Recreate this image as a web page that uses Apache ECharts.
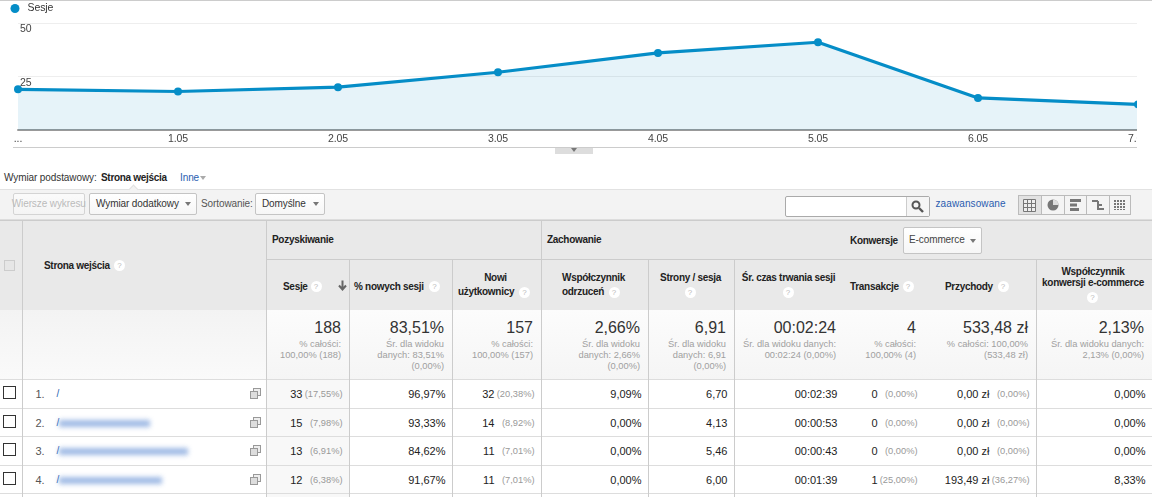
<!DOCTYPE html>
<html>
<head>
<meta charset="utf-8">
<title>Strona wejścia</title>
<script src="https://cdn.jsdelivr.net/npm/echarts@6/dist/echarts.min.js"></script>
<style>
    html,body{margin:0;padding:0;background:#fff;overflow:hidden;}
    #page{position:absolute;left:0;top:0;width:1152px;height:497px;overflow:hidden;font:10px "Liberation Sans",Arial,sans-serif;letter-spacing:-.1px;color:#333;}
    #chart{position:absolute;left:0;top:0;width:1137px;height:147px;}
    #page .t{position:absolute;white-space:nowrap;line-height:14px;}
    #page .b{position:absolute;box-sizing:border-box;}
    .btn{background:linear-gradient(#fff,#f6f6f6);border:1px solid #c4c4c4;border-radius:2px;}
</style>
</head>
<body>
<div id="page">
    <div id="chart"></div>
</div>
<script>
// wykres
const categories=['...','1.05','2.05','3.05','4.05','5.05','6.05','7.05'];
const sessions=[19,18,20,27,36,41,15,12];
const yTicks=[0,25,50];
const seriesName='Sesje';

// tabela
const metricHeads=['Sesje','% nowych sesji','Nowi użytkownicy','Współczynnik odrzuceń','Strony / sesja','Śr. czas trwania sesji','Transakcje','Przychody','Współczynnik konwersji e-commerce'];
const totalValues=['188','83,51%','157','2,66%','6,91','00:02:24','4','533,48 zł','2,13%'];
const totalNotes=[
    ['% całości:','100,00% (188)'],
    ['Śr. dla widoku','danych: 83,51%','(0,00%)'],
    ['% całości:','100,00% (157)'],
    ['Śr. dla widoku','danych: 2,66%','(0,00%)'],
    ['Śr. dla widoku','danych: 6,91','(0,00%)'],
    ['Śr. dla widoku danych:','00:02:24 (0,00%)'],
    ['% całości:','100,00% (4)'],
    ['% całości: 100,00%','(533,48 zł)'],
    ['Śr. dla widoku danych:','2,13% (0,00%)']
];
const rowRanks=['1.','2.','3.','4.'];
const rowSessions=['33','15','13','12'];
const rowSessionShare=['(17,55%)','(7,98%)','(6,91%)','(6,38%)'];
const rowNewRate=['96,97%','93,33%','84,62%','91,67%'];
const rowNewUsers=['32','14','11','11'];
const rowNewUsersShare=['(20,38%)','(8,92%)','(7,01%)','(7,01%)'];
const rowBounce=['9,09%','0,00%','0,00%','0,00%'];
const rowPages=['6,70','4,13','5,46','6,00'];
const rowDuration=['00:02:39','00:00:53','00:00:43','00:01:39'];
const rowTransactions=['0','0','0','1'];
const rowTransactionsShare=['(0,00%)','(0,00%)','(0,00%)','(25,00%)'];
const rowRevenue=['0,00 zł','0,00 zł','0,00 zł','193,49 zł'];
const rowRevenueShare=['(0,00%)','(0,00%)','(0,00%)','(36,27%)'];
const rowConversion=['0,00%','0,00%','0,00%','8,33%'];

const chart=echarts.init(document.getElementById('chart'));
chart.setOption({
    animation:false,
    legend:{
        data:[seriesName],
        left:10.5,
        top:3,
        padding:0,
        icon:'circle',
        itemWidth:9,
        itemHeight:9,
        textStyle:{color:'#333',fontSize:10.5,fontFamily:'Liberation Sans',padding:[0,0,0,3]}
    },
    grid:{left:18,top:23,width:1120,height:107,outerBoundsMode:'none'},
    xAxis:{
        type:'category',
        boundaryGap:false,
        data:categories,
        axisTick:{show:false},
        axisLine:{lineStyle:{color:'#999',width:2}},
        axisLabel:{interval:0,margin:4,hideOverlap:false,color:'#444',fontSize:10.5,fontFamily:'Liberation Sans'}
    },
    yAxis:{
        type:'value',
        min:yTicks[0],
        max:yTicks[2],
        interval:yTicks[1],
        axisLine:{show:false},
        axisTick:{show:false},
        splitLine:{lineStyle:{color:'#eee'}},
        axisLabel:{inside:true,showMinLabel:false,margin:2,verticalAlign:'top',padding:[1,0,0,0],color:'#444',fontSize:10.5,fontFamily:'Liberation Sans'}
    },
    series:[{
        name:seriesName,
        type:'line',
        data:sessions,
        clip:false,
        showAllSymbol:true,
        symbol:'circle',
        symbolSize:8,
        color:'#058dc7',
        lineStyle:{width:3.2,color:'#058dc7'},
        areaStyle:{color:'#058dc7',opacity:0.1}
    }]
});

const page=document.getElementById('page');
function box(x,y,w,h,css,cls){
    let el=document.createElement('div');
    el.className='b '+(cls||'');
    el.style.cssText='left:'+x+'px;top:'+y+'px;width:'+w+'px;height:'+h+'px;'+(css||'');
    page.appendChild(el);
    return el;
}
// y = srodek wiersza, align: l / r / c
function text(x,y,str,css,align){
    let el=document.createElement('div');
    el.className='t';
    el.textContent=str;
    let pos='left:'+x+'px;';
    if(align==='r') pos='right:'+(1152-x)+'px;';
    if(align==='c') pos='left:'+x+'px;transform:translateX(-50%);';
    el.style.cssText=pos+'top:'+(y-7)+'px;'+(css||'');
    page.appendChild(el);
    return el;
}
function help(cx,cy){
    let el=box(cx-5.5,cy-5.5,11,11,'background:#fff;border-radius:50%;color:#bbb;font-size:8px;line-height:11px;text-align:center;');
    el.textContent='?';
}
function caret(cx,cy,color){
    box(cx-3.5,cy-2,0,0,'border-left:3.5px solid transparent;border-right:3.5px solid transparent;border-top:4px solid '+(color||'#777')+';');
}
function svg(x,y,w,h,inner){
    let el=box(x,y,w,h);
    el.innerHTML='<svg width="'+w+'" height="'+h+'" xmlns="http://www.w3.org/2000/svg">'+inner+'</svg>';
}
const bold='font-weight:bold;letter-spacing:-.3px;color:#222;';
const blue='color:#2a5db0;';

// gorna linia i pod wykresem
box(0,0,1152,1,'background:#ccc;');
box(13,147,1124,1,'background:#ccc;');
box(555,148,38,6,'background:#ddd;');
caret(574,150,'#777');

// wymiar podstawowy
text(4,177.5,'Wymiar podstawowy:');
text(101,177.5,'Strona wejścia',bold);
text(180,177.5,'Inne',blue);
caret(203,177.5,'#aaa');

// pasek narzedzi
box(0,189,1152,31,'background:#f3f3f3;border-top:1px solid #e2e2e2;border-bottom:1px solid #ddd;');
box(129.5,185.5,7,7,'background:#f3f3f3;border-left:1px solid #e2e2e2;border-top:1px solid #e2e2e2;transform:rotate(45deg);');
box(12.5,193,72.5,22,'','btn').style.opacity='0.65';
text(48.75,204,'Wiersze wykresu','color:#bbb;','c');
box(89,193,108,22,'','btn');
text(96,204,'Wymiar dodatkowy');
caret(188,204);
text(201,204,'Sortowanie:','color:#555;');
box(255,193,70,22,'','btn');
text(262,204,'Domyślne');
caret(316,204);

box(785,196,145,21,'background:#fff;border:1px solid #aaa;border-radius:2px;');
box(906,197,23,19,'background:#f5f5f5;border-left:1px solid #ccc;');
svg(911,200,13,13,'<circle cx="5" cy="5" r="3.5" fill="none" stroke="#555" stroke-width="2"/><line x1="8" y1="8" x2="12" y2="12" stroke="#555" stroke-width="2.4"/>');
text(935.5,204,'zaawansowane',blue+'letter-spacing:.1px;');

// przelaczniki widoku
[1018,1041,1064,1086,1109].forEach(function(x,i){
    box(x,195,i===4?22:24,20,'background:'+(i===0?'#e2e2e2':'#f4f4f4')+';border:1px solid #bbb;');
});
const ic='#777';
svg(1023,199,13,13,'<path d="M0.5 0.5H12.5V12.5H0.5ZM4.5 0.5V12.5M8.5 0.5V12.5M0.5 4.5H12.5M0.5 8.5H12.5" fill="#eee" stroke="'+ic+'"/>');
svg(1047,199,12,12,'<circle cx="6" cy="6" r="5.5" fill="'+ic+'"/><path d="M6 6V0.5A5.5 5.5 0 0 1 11.5 6Z" fill="#ddd"/>');
svg(1070,199,12,12,'<rect x="0" y="0" width="11" height="3" fill="'+ic+'"/><rect x="0" y="4.5" width="7" height="3" fill="'+ic+'"/><rect x="0" y="9" width="9" height="3" fill="'+ic+'"/>');
svg(1092,199,12,12,'<path d="M0 2H6M6 2V10H12M6 6H10" fill="none" stroke="'+ic+'" stroke-width="2"/>');
svg(1114,199,12,12,'<path d="M1 1V11M4 1V11M7 1V11M10 1V11" fill="none" stroke="'+ic+'" stroke-width="2" stroke-dasharray="2 1"/>');

// naglowek tabeli
box(0,220,1152,90,'background:#e9e9e9;border-top:1px solid #ccc;');
box(3.5,260,11,11,'background:#e6e6e6;border:1px solid #ccc;');
text(44,265.5,'Strona wejścia',bold);
help(119.5,265.5);
text(272,239.5,'Pozyskiwanie',bold);
text(547,239.5,'Zachowanie',bold);
text(850,240.5,'Konwersje',bold);
box(902.5,227,79,27,'','btn');
text(909,240,'E-commerce','color:#444;');
caret(973,240.5);
box(266,259,886,1,'background:#ccc;');

text(283,286.5,metricHeads[0],bold);
help(316,286.5);
svg(338,280,9,11,'<path d="M4.5 0.5V9M1 5.5L4.5 9.5L8 5.5" fill="none" stroke="#666" stroke-width="2"/>');
text(354,286.5,metricHeads[1],bold);
help(434.5,286.5);
text(495.5,278,'Nowi',bold,'c');
text(458,292,'użytkownicy',bold);
help(524.5,292);
text(562,278,'Współczynnik',bold);
text(562,292,'odrzuceń',bold);
help(614,292);
text(690.5,278,metricHeads[4],bold,'c');
help(690,292);
text(788.5,278,metricHeads[5],bold,'c');
help(788,292);
text(850,286.5,metricHeads[6],bold);
help(908,286.5);
text(945,286.5,metricHeads[7],bold);
help(1003,286.5);
text(1093,272,'Współczynnik',bold,'c');
text(1093,283,'konwersji e-commerce',bold,'c');
help(1092.5,297);

// prawe krawedzie kolumn: sesje .. konwersja
const colEdges=[266,349,452,541,648,734,844,924,1036,1152];

// wiersz podsumowania
box(0,310,1152,70,'background:linear-gradient(#fcfcfc,#f5f5f5);');
box(0,310,266,70,'background:linear-gradient(#f3f3f3,#fafafa);');
totalValues.forEach(function(val,i){
    let right=colEdges[i+1]-8;
    text(right,328,val,'font-size:16px;color:#333;line-height:22px;top:317px;letter-spacing:0;','r');
    totalNotes[i].forEach(function(line,j){
        text(right,344+j*11,line,'color:#a0a0a0;font-size:9.3px;letter-spacing:0;','r');
    });
});

// wiersze danych
const rowTops=[380,409,437,466];
box(266,380,83,117,'background:#f8f8f8;');
rowTops.concat([494]).forEach(function(y){
    box(0,y-1,1152,1,'background:#ddd;');
});
const blurWidths=[0,91,129,103];
rowRanks.forEach(function(rank,i){
    let y=rowTops[i]+14;
    box(2.5,y-8,13,13,'background:#fff;border:1px solid #333;');
    text(35.5,y,rank,'color:#555;font-size:11px;');
    text(56.5,y,'/',blue);
    if(blurWidths[i]){
        box(59,y-3.5,blurWidths[i],7,'background:#7fa3dc;filter:blur(2.5px);opacity:.75;');
    }
    svg(250,y-6,11,11,'<rect x="3.5" y="0.5" width="7" height="7" fill="#eee" stroke="#999"/><rect x="0.5" y="3.5" width="7" height="7" fill="#ddd" stroke="#999"/>');
    const dark='color:#222;font-size:11px;letter-spacing:0;';
    const grey='color:#999;font-size:9.3px;letter-spacing:0;';
    // kolumny z udzialem maja wartosc i procent osobno
    function pair(col,val,share){
        let right=colEdges[col]-6.5;
        text(right-40,y,val,dark,'r');
        text(right,y,share,grey,'r');
    }
    function single(col,val){
        text(colEdges[col]-6.5,y,val,dark,'r');
    }
    pair(1,rowSessions[i],rowSessionShare[i]);
    single(2,rowNewRate[i]);
    pair(3,rowNewUsers[i],rowNewUsersShare[i]);
    single(4,rowBounce[i]);
    single(5,rowPages[i]);
    single(6,rowDuration[i]);
    pair(7,rowTransactions[i],rowTransactionsShare[i]);
    pair(8,rowRevenue[i],rowRevenueShare[i]);
    single(9,rowConversion[i]);
});

// pionowe linie tabeli
[[22,220],[266,220],[541,220],[1036,259],[349,259],[452,259],[648,259],[734,259]].forEach(function(v){
    box(v[0],v[1],1,497-v[1],'background:#ccc;');
});
</script>
</body>
</html>
